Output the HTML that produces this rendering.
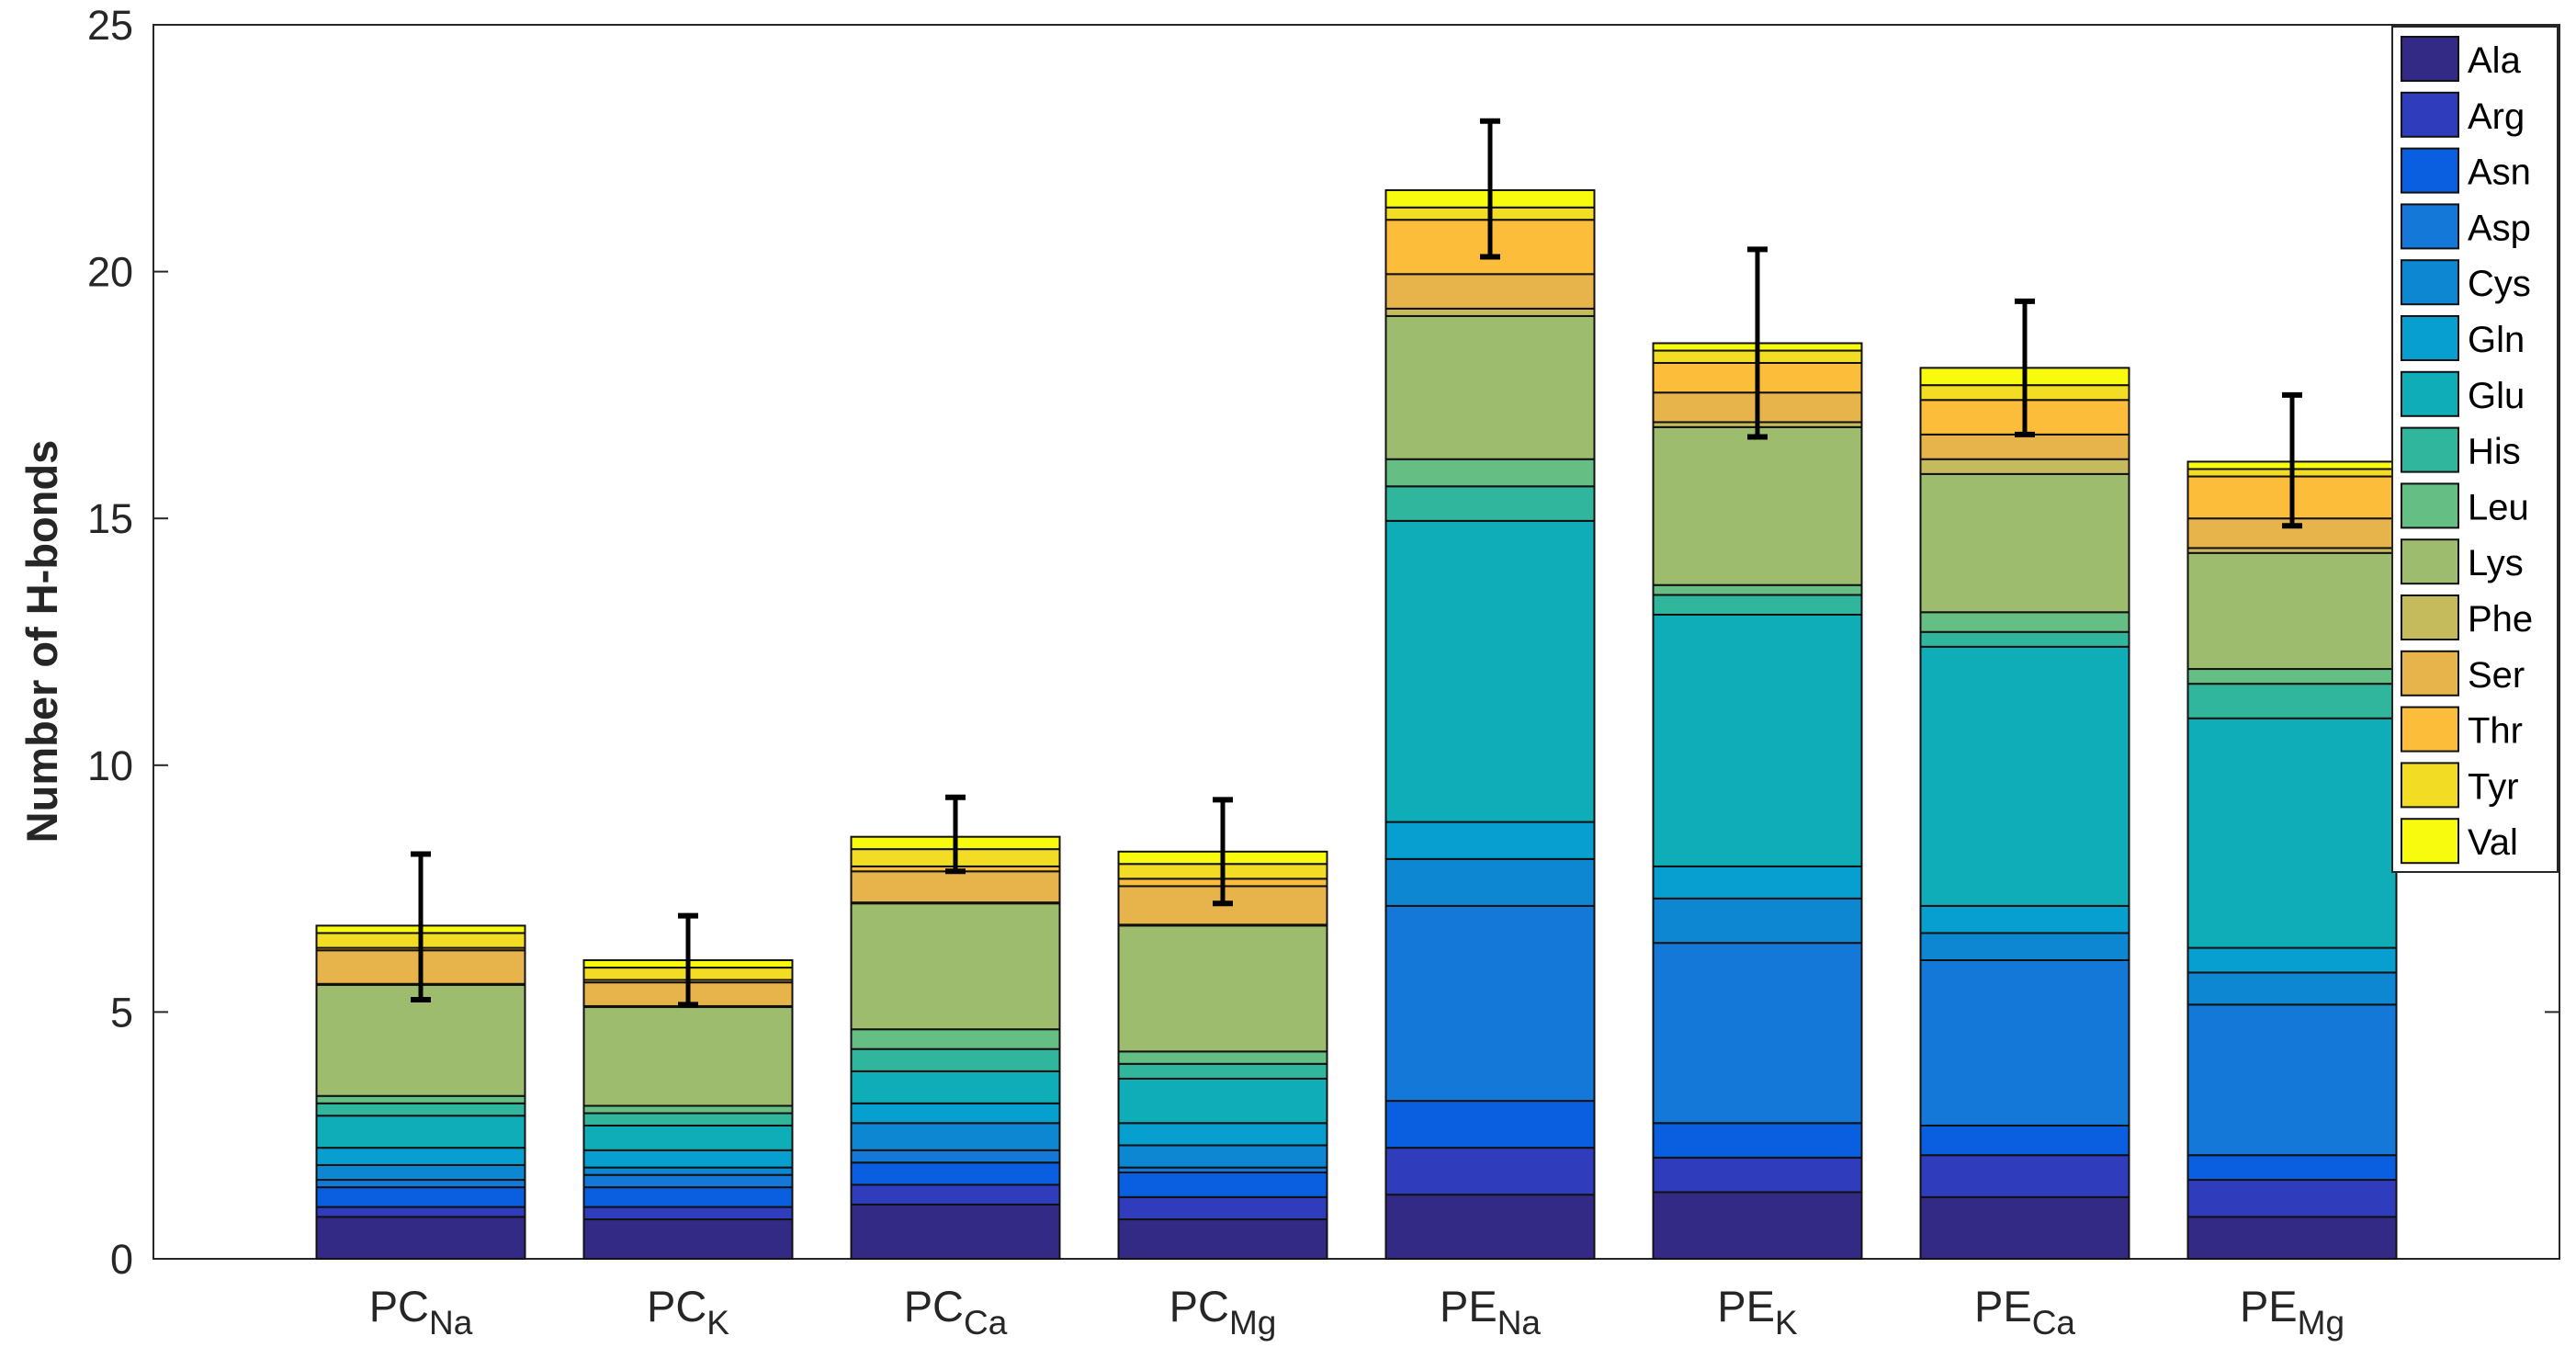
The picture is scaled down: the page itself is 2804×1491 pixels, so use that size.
<!DOCTYPE html>
<html><head><meta charset="utf-8"><style>
html,body{margin:0;padding:0;background:#fff;}
svg{display:block;font-family:"Liberation Sans",Arial,sans-serif;}
</style></head><body>
<svg id="chart" width="2804" height="1491" viewBox="0 0 2804 1491" xmlns="http://www.w3.org/2000/svg">
<g id="axes"></g>
<g id="bars"></g>
<g id="errs"></g>
<g id="legend"></g>
</svg>
<script>
const categories = ["Na","K","Ca","Mg","Na","K","Ca","Mg"];
const catPrefix = ["PC","PC","PC","PC","PE","PE","PE","PE"];
const residues = ["Ala","Arg","Asn","Asp","Cys","Gln","Glu","His","Leu","Lys","Phe","Ser","Thr","Tyr","Val"];
const colors = ["#332a86","#2f3cbc","#0a5ee0","#1478d8","#0d87d1","#079fcf","#0fadb8","#30b69c","#65be84","#9dbc6e","#c6bb5c","#e6b44a","#fcbd3a","#f2dc24","#f9fb0e"];
const valAla = [0.85,0.80,1.10,0.80,1.30,1.35,1.25,0.85];
const valArg = [0.20,0.25,0.40,0.45,0.95,0.70,0.85,0.75];
const valAsn = [0.40,0.40,0.45,0.50,0.95,0.70,0.60,0.50];
const valAsp = [0.15,0.25,0.25,0.10,3.95,3.65,3.35,3.05];
const valCys = [0.30,0.15,0.55,0.45,0.95,0.90,0.55,0.65];
const valGln = [0.35,0.35,0.40,0.45,0.75,0.65,0.55,0.50];
const valGlu = [0.65,0.50,0.65,0.90,6.10,5.10,5.25,4.65];
const valHis = [0.25,0.25,0.45,0.30,0.70,0.40,0.30,0.70];
const valLeu = [0.15,0.15,0.40,0.25,0.55,0.20,0.40,0.30];
const valLys = [2.25,2.00,2.55,2.55,2.90,3.20,2.80,2.35];
const valPhe = [0.02,0.02,0.02,0.02,0.15,0.10,0.30,0.10];
const valSer = [0.68,0.48,0.63,0.78,0.70,0.60,0.50,0.60];
const valThr = [0.05,0.05,0.10,0.15,1.10,0.60,0.70,0.85];
const valTyr = [0.30,0.25,0.35,0.30,0.25,0.25,0.30,0.15];
const valVal = [0.15,0.15,0.25,0.25,0.35,0.15,0.35,0.15];
const errLow = [5.25,5.15,7.85,7.20,20.30,16.65,16.70,14.85];
const errHigh = [8.20,6.95,9.35,9.30,23.05,20.45,19.40,17.50];
const yTicks = [0,5,10,15,20,25];
const series = [valAla,valArg,valAsn,valAsp,valCys,valGln,valGlu,valHis,valLeu,valLys,valPhe,valSer,valThr,valTyr,valVal];

const NS="http://www.w3.org/2000/svg";
const L=167,R=2786,T=27,B=1370;
const yMax=25;
function yS(v){return B-(v/yMax)*(B-T);}
function xS(i){return L+(i+1)*(R-L)/9;}
const barW=0.78*(R-L)/9;
function mk(tag,attrs,parent){const e=document.createElementNS(NS,tag);for(const k in attrs)e.setAttribute(k,attrs[k]);parent.appendChild(e);return e;}
const axes=document.getElementById('axes'),bars=document.getElementById('bars'),errs=document.getElementById('errs'),leg=document.getElementById('legend');

for(let c=0;c<categories.length;c++){
  let cum=0;
  for(let s=0;s<series.length;s++){
    const v=series[s][c];
    const r=mk('rect',{x:xS(c)-barW/2,y:yS(cum+v),width:barW,height:yS(cum)-yS(cum+v),fill:colors[s],stroke:'#111',"stroke-width":2},bars);
    
    
    cum+=v;
  }
  const g=mk('g',{},errs);
  
  
  const x=xS(c);
  mk('line',{x1:x,x2:x,y1:yS(errLow[c]),y2:yS(errHigh[c]),stroke:'#000',"stroke-width":5},g);
  mk('line',{x1:x-11,x2:x+11,y1:yS(errLow[c]),y2:yS(errLow[c]),stroke:'#000',"stroke-width":6},g);
  mk('line',{x1:x-11,x2:x+11,y1:yS(errHigh[c]),y2:yS(errHigh[c]),stroke:'#000',"stroke-width":6},g);
  const t=mk('text',{x:x,y:1438,"text-anchor":"middle","font-size":47,fill:'#262626'},axes);
  
  
  const t1=document.createElementNS(NS,'tspan');t1.textContent=catPrefix[c];t.appendChild(t1);
  const t2=document.createElementNS(NS,'tspan');t2.setAttribute('font-size','37');t2.setAttribute('dy','14');t2.textContent=categories[c];t.appendChild(t2);
}
const box=mk('rect',{x:L,y:T,width:R-L,height:B-T,fill:'none',stroke:'#262626',"stroke-width":2},axes);


for(const v of yTicks){
  const y=yS(v);
  mk('line',{x1:L,x2:L+16,y1:y,y2:y,stroke:'#262626',"stroke-width":2},axes);
  mk('line',{x1:R,x2:R-16,y1:y,y2:y,stroke:'#262626',"stroke-width":2},axes);
  const t=mk('text',{x:L-22,y:y+16,"text-anchor":"end","font-size":45,fill:'#262626'},axes);
  
  
  t.textContent=v;
}
const yl=mk('text',{x:0,y:0,transform:'translate(62,698) rotate(-90)',"text-anchor":"middle","font-size":47,"font-weight":"bold",fill:'#262626'},axes);


yl.textContent='Number of H-bonds';

const lb=mk('rect',{x:2604,y:29,width:180,height:920,fill:'#fff',stroke:'#262626',"stroke-width":2},leg);


for(let s=0;s<residues.length;s++){
  const y=40+s*60.8;
  const g=mk('g',{},leg);
  
  
  mk('rect',{x:2614,y:y,width:62,height:48,fill:colors[s],stroke:'#111',"stroke-width":2},g);
  const t=mk('text',{x:2686,y:y+39,"font-size":40,fill:'#000'},g);
  t.textContent=residues[s];
}
</script>
</body></html>
